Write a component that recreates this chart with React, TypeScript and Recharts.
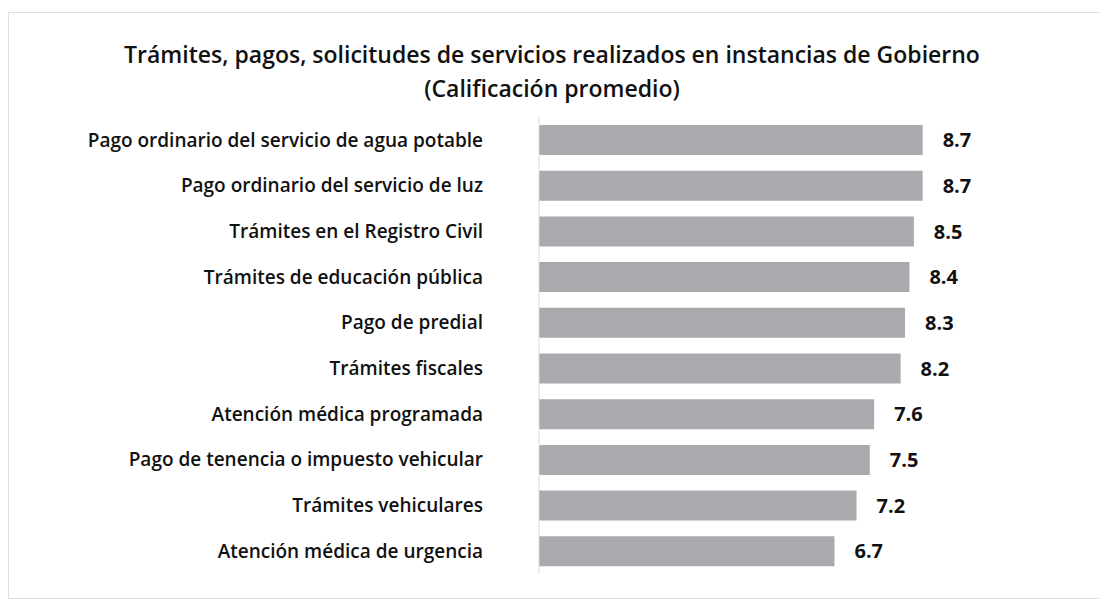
import { Bar, BarChart, LabelList, XAxis, YAxis } from 'recharts';

const CATEGORIES = [
  'Pago ordinario del servicio de agua potable',
  'Pago ordinario del servicio de luz',
  'Trámites en el Registro Civil',
  'Trámites de educación pública',
  'Pago de predial',
  'Trámites fiscales',
  'Atención médica programada',
  'Pago de tenencia o impuesto vehicular',
  'Trámites vehiculares',
  'Atención médica de urgencia',
];

const SCORES = [8.7, 8.7, 8.5, 8.4, 8.3, 8.2, 7.6, 7.5, 7.2, 6.7];

const TITLE_LINES = [
  'Trámites, pagos, solicitudes de servicios realizados en instancias de Gobierno',
  '(Calificación promedio)',
];

const FONT = '"Open Sans", "Noto Sans", sans-serif';

export default function App() {
  const data = CATEGORIES.map((name, i) => ({ name, value: SCORES[i] }));

  return (
    <div
      style={{
        position: 'absolute',
        left: 0,
        top: 0,
        width: 1099,
        height: 601,
        background: '#fff',
        fontFamily: FONT,
        overflow: 'hidden',
      }}
    >
      {/* light frame round the chart */}
      <div
        style={{
          position: 'absolute',
          left: 8,
          top: 12,
          width: 1100,
          height: 585,
          border: '1px solid #dfe0e6',
        }}
      />

      <div
        style={{
          position: 'absolute',
          left: 0,
          top: 37,
          width: 1104,
          textAlign: 'center',
          fontSize: 23,
          fontWeight: 600,
          lineHeight: '34px',
          color: '#111',
        }}
      >
        {TITLE_LINES.map((line) => (
          <div key={line}>{line}</div>
        ))}
      </div>

      <div style={{ position: 'absolute', left: 0, top: 0 }}>
        <BarChart
          width={1099}
          height={601}
          data={data}
          layout="vertical"
          margin={{ top: 117, right: 119, bottom: 27, left: 0 }}
        >
          <XAxis type="number" domain={[0, 10]} hide />
          <YAxis
            type="category"
            dataKey="name"
            width={539}
            interval={0}
            tickLine={false}
            tickMargin={50}
            axisLine={{ stroke: '#d9dae0' }}
            tick={{ fontSize: 19, fontWeight: 600, fill: '#111', fontFamily: FONT }}
          />
          <Bar dataKey="value" fill="#a9a9ae" barSize={30} isAnimationActive={false}>
            <LabelList
              dataKey="value"
              position="right"
              offset={20}
              formatter={(v: number) => v.toFixed(1)}
              style={{ fontSize: 20, fontWeight: 700, fill: '#111', fontFamily: FONT }}
            />
          </Bar>
        </BarChart>
      </div>
    </div>
  );
}
